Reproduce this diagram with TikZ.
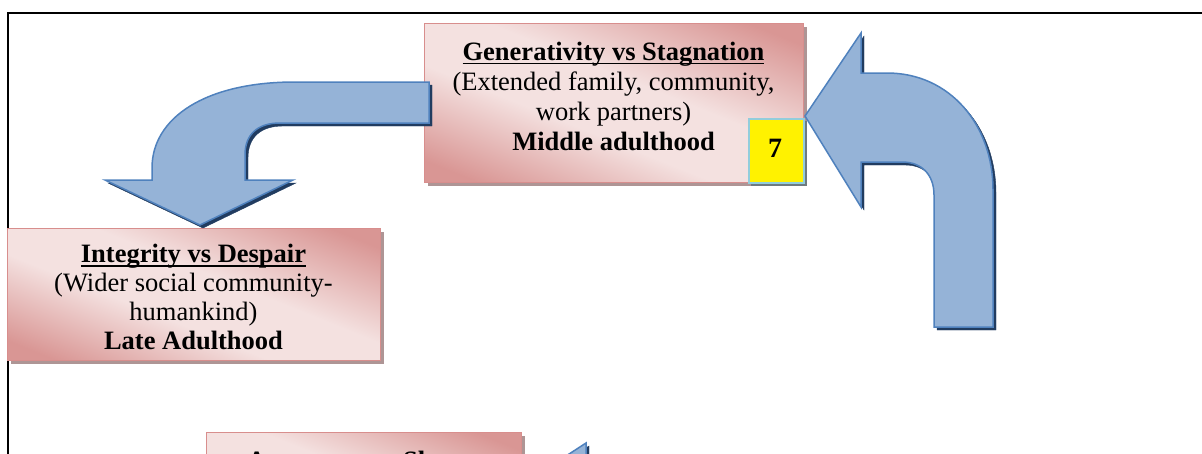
\documentclass[tikz,border=0pt]{standalone}
\usepackage{fontspec}
\setmainfont{Liberation Serif}
\definecolor{pinkdark}{HTML}{D99694}
\definecolor{pinklight}{HTML}{F4E1E0}
\definecolor{pinkedge}{HTML}{D88E8D}
\definecolor{boxshade}{HTML}{AE9595}
\definecolor{arrowfill}{HTML}{95B3D7}
\definecolor{arrowedge}{HTML}{4F81BD}
\definecolor{arrowshade}{HTML}{213C60}
\definecolor{badgeedge}{HTML}{92CDDC}
\definecolor{badgeshade}{HTML}{6F7B7F}
% diagonal gradient: dark corners, wide light band in the middle
\pgfdeclareverticalshading{pinkband}{100bp}{color(0bp)=(pinkdark); color(22bp)=(pinkdark);
  color(42bp)=(pinklight); color(56bp)=(pinklight); color(78bp)=(pinkdark); color(100bp)=(pinkdark)}
% underline set a little below the baseline, through the descenders
\newcommand{\ulbar}[1]{\setbox0\hbox{#1}\rlap{\rule[-4pt]{\wd0}{1.3pt}}\box0}
\tikzset{
  boxdrop/.style={fill=boxshade},
  stagebox/.style={draw=pinkedge, line width=0.8pt, anchor=north west, inner sep=0pt,
    shade, shading=pinkband, shading angle=-22},
  badge/.style={draw=badgeedge, line width=2pt, fill=yellow, anchor=north west,
    inner sep=0pt},
  bluearrow/.style={fill=arrowfill, draw=arrowedge, line width=1.5pt,
    line join=miter,
    preaction={fill=arrowshade, draw=arrowshade, transform canvas={shift={(3pt,-3pt)}}}},
  linetext/.style={anchor=base, inner sep=0pt,
    font=\fontsize{26.5pt}{30pt}\selectfont},
  frameline/.style={line width=2pt, draw=black}
}
\begin{document}
\begin{tikzpicture}[x=1pt, y=-1pt]
\useasboundingbox (0,0) rectangle (1202,453);
\clip (0,0) rectangle (1202,453);

% outer frame (top and left sides)
\draw[frameline] (8,455) -- (8,13) -- (1204,13);

% box shadows
\fill[boxdrop] (428,27) rectangle (807,186);
\fill[boxdrop] (11,232) rectangle (384,364);
\fill[boxdrop] (210,436) rectangle (525,566);
\fill[badgeshade] (751,121) rectangle (807,186);

% stage boxes
\node[stagebox, minimum width=379pt, minimum height=159pt] (gen) at (424,23) {};
\node[stagebox, minimum width=373pt, minimum height=132pt] (integ) at (7,228) {};
\node[stagebox, minimum width=315pt, minimum height=130pt] (auto) at (206,432) {};

% stage number badge
\node[badge, minimum width=55pt, minimum height=64pt] (num) at (748,118) {};
\node[linetext, font=\fontsize{28pt}{30pt}\selectfont\bfseries] (numtxt) at (775,157) {7};

% curved arrow: Generativity -> Integrity
\path[bluearrow] (429,82) -- (295,82)
  .. controls (205,82) and (152,118) .. (152,168)
  -- (152,180) -- (105,180) -- (200,225) -- (293,180) -- (245,180)
  -- (245,155) .. controls (245,134) and (258,123) .. (280,123)
  -- (429,123) -- cycle;

% curved arrow rising into the Generativity stage
\path[bluearrow] (805,116) -- (861,33) -- (861,73) -- (887,73)
  .. controls (950,73) and (993,125) .. (993,190)
  -- (993,327) -- (934,327) -- (934,195)
  .. controls (934,175) and (922,162) .. (902,162)
  -- (861,162) -- (861,207) -- cycle;

% arrow toward the Autonomy stage
\path[bluearrow] (586,443) -- (526,482) -- (586,521) -- (586,505)
  -- (650,505) -- (650,460) -- (586,460) -- cycle;

% texts
\node[linetext] (genA) at (613.5,60) {\bfseries\ulbar{Generativity vs Stagnation}};
\node[linetext] (genB) at (613.5,90.5) {(Extended family, community,};
\node[linetext] (genC) at (613.5,120.5) {work partners)};
\node[linetext] (genD) at (613.5,150.5) {\bfseries Middle adulthood};

\node[linetext] (integA) at (193.5,262.5) {\bfseries\ulbar{Integrity vs Despair}};
\node[linetext] (integB) at (193.5,291.5) {(Wider social community-};
\node[linetext] (integC) at (193.5,320) {humankind)};
\node[linetext] (integD) at (193.5,349) {\bfseries Late Adulthood};

\node[linetext] (autoA) at (363.5,469) {\bfseries\ulbar{Autonomy vs Shame}};
\end{tikzpicture}
\end{document}
